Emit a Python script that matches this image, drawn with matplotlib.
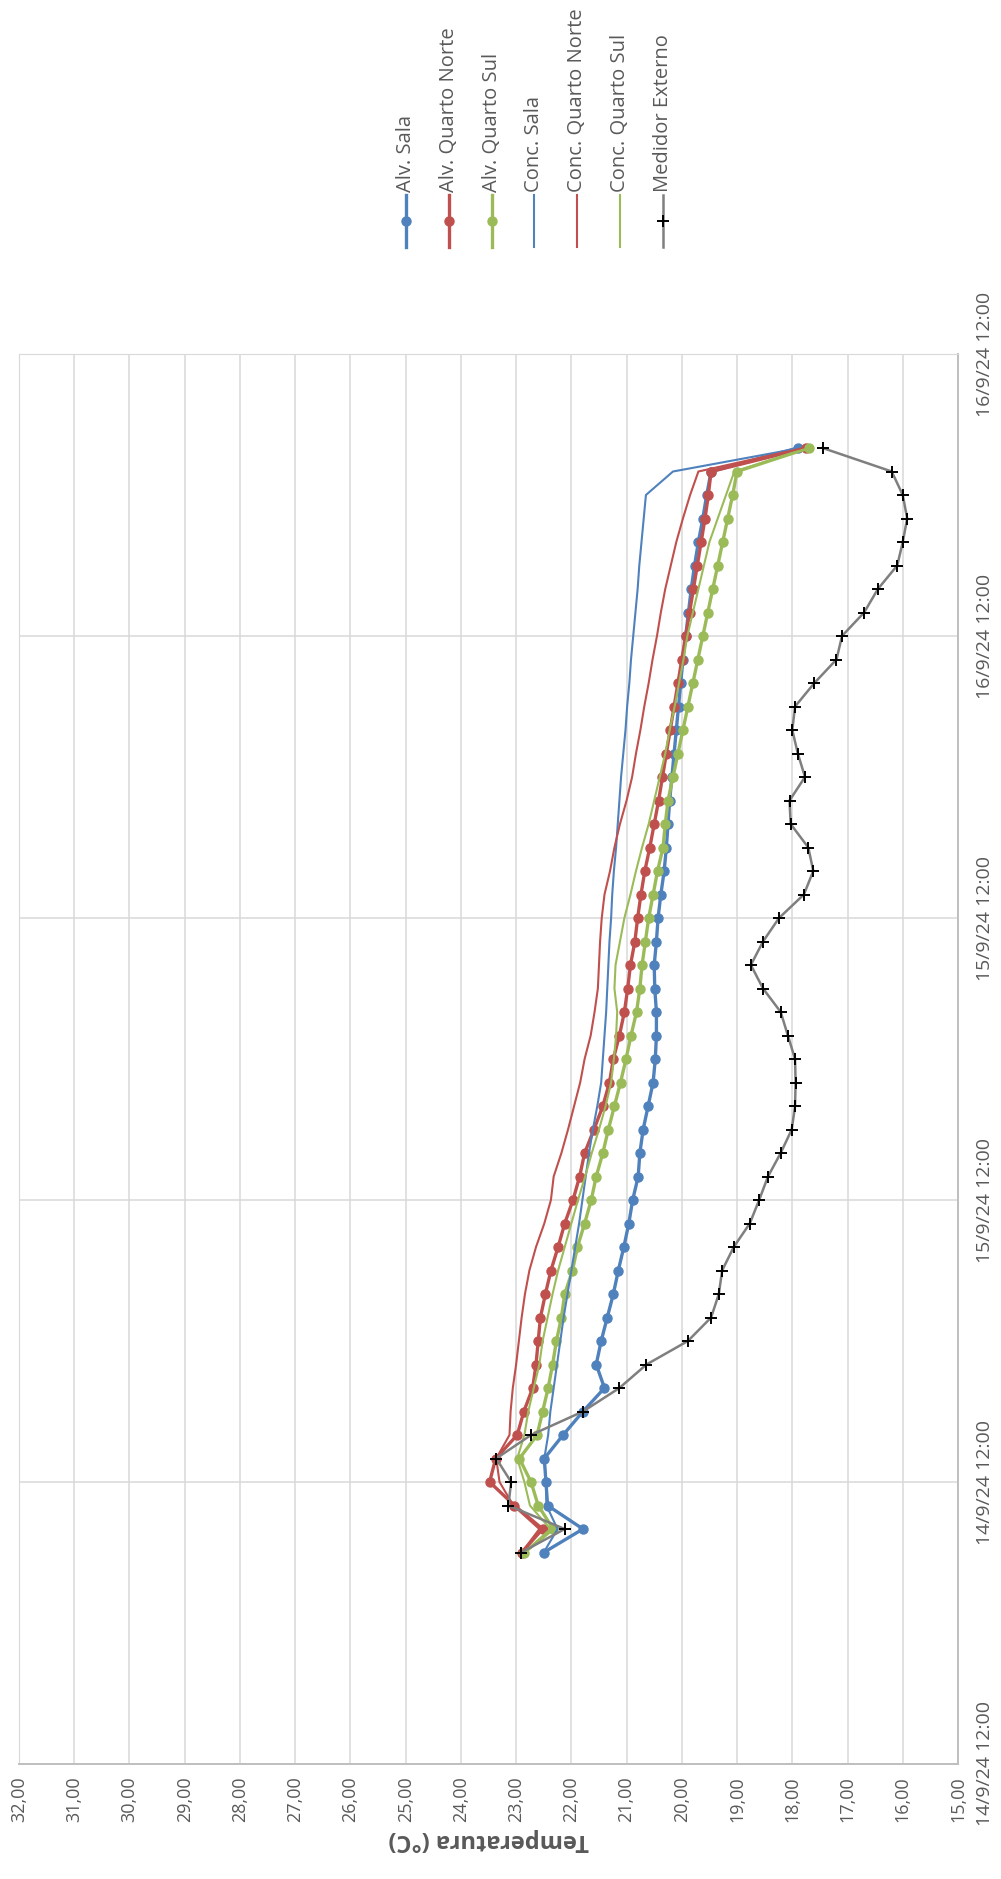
import numpy as np
import matplotlib
matplotlib.use("Agg")
import matplotlib.pyplot as plt
from matplotlib.lines import Line2D

plt.rcParams['font.family'] = ['Open Sans', 'DejaVu Sans']

# hourly readings, hours counted from 14/9/24 00:00 (first reading at 09:00)
hours = np.arange(9, 57)

alv_sala = [22.50, 21.79, 22.43, 22.46, 22.49, 22.15, 21.79, 21.40,
            21.55, 21.46, 21.35, 21.24, 21.15, 21.05, 20.96, 20.89,
            20.79, 20.76, 20.70, 20.61, 20.52, 20.48, 20.46, 20.46, 20.49,
            20.50, 20.46, 20.43, 20.38, 20.32, 20.28, 20.25, 20.22,
            20.18, 20.14, 20.10, 20.06, 20.02, 19.98, 19.93, 19.88, 19.83,
            19.77, 19.70, 19.62, 19.55, 19.47,
            17.90]
alv_qn = [22.90, 22.52, 23.03, 23.48, 23.37, 22.98, 22.86, 22.70,
          22.64, 22.60, 22.56, 22.47, 22.37, 22.24, 22.12, 21.97,
          21.85, 21.76, 21.59, 21.43, 21.31, 21.24, 21.13, 21.04, 20.98,
          20.93, 20.85, 20.80, 20.74, 20.67, 20.58, 20.50, 20.42,
          20.35, 20.28, 20.21, 20.14, 20.07, 20.00, 19.93, 19.86, 19.79,
          19.72, 19.65, 19.58, 19.52, 19.47,
          17.75]
alv_qs = [22.85, 22.33, 22.60, 22.73, 22.94, 22.62, 22.52, 22.42,
          22.34, 22.27, 22.18, 22.12, 21.98, 21.89, 21.76, 21.64,
          21.55, 21.43, 21.33, 21.22, 21.11, 21.01, 20.92, 20.82, 20.76,
          20.72, 20.66, 20.60, 20.52, 20.44, 20.34, 20.30, 20.25,
          20.16, 20.07, 19.98, 19.89, 19.80, 19.71, 19.62, 19.53, 19.44,
          19.35, 19.26, 19.17, 19.08, 19.00,
          17.70]
conc_sala = [22.50, 22.25, 22.45, 22.46, 22.49, 22.42, 22.38, 22.32,
             22.26, 22.20, 22.14, 22.07, 22.00, 21.93, 21.86, 21.80,
             21.74, 21.68, 21.61, 21.53, 21.46, 21.43, 21.40, 21.37, 21.35,
             21.33, 21.31, 21.28, 21.26, 21.23, 21.19, 21.16, 21.13,
             21.10, 21.06, 21.02, 20.99, 20.95, 20.92, 20.88, 20.84, 20.80,
             20.77, 20.73, 20.69, 20.65, 20.16,
             17.85]
conc_qn = [22.90, 22.58, 23.05, 23.30, 23.36, 23.12, 23.10, 23.06,
           23.00, 22.95, 22.90, 22.84, 22.76, 22.64, 22.49, 22.37,
           22.32, 22.18, 22.06, 21.95, 21.84, 21.76, 21.65, 21.58, 21.52,
           21.50, 21.48, 21.45, 21.40, 21.30, 21.22, 21.12, 21.00,
           20.90, 20.83, 20.75, 20.68, 20.60, 20.53, 20.45, 20.38, 20.30,
           20.20, 20.10, 19.98, 19.85, 19.70,
           17.80]
conc_qs = [22.85, 22.38, 22.75, 22.85, 22.98, 22.85, 22.78, 22.68,
           22.58, 22.52, 22.43, 22.34, 22.24, 22.12, 22.00, 21.88,
           21.75, 21.63, 21.50, 21.38, 21.28, 21.23, 21.19, 21.17, 21.22,
           21.20, 21.12, 21.04, 20.93, 20.83, 20.72, 20.60, 20.50,
           20.40, 20.30, 20.22, 20.13, 20.05, 19.97, 19.90, 19.80, 19.70,
           19.60, 19.50, 19.35, 19.20, 19.05,
           17.70]
medidor = [22.91, 22.12, 23.14, 23.09, 23.36, 22.73, 21.79, 21.13,
           20.64, 19.89, 19.47, 19.33, 19.27, 19.06, 18.77, 18.60,
           18.44, 18.21, 18.01, 17.95, 17.94, 17.95, 18.08, 18.21, 18.53,
           18.75, 18.53, 18.24, 17.79, 17.62, 17.71, 18.03, 18.05,
           17.77, 17.90, 18.00, 17.95, 17.60, 17.20, 17.10, 16.70, 16.45,
           16.10, 16.00, 15.92, 16.00, 16.20,
           17.45]

date_ticks = [0, 12, 24, 36, 48, 60]
date_labels = ['14/9/24 12:00', '14/9/24 12:00', '15/9/24 12:00',
               '15/9/24 12:00', '16/9/24 12:00', '16/9/24 12:00']
temp_ticks = np.arange(15, 33)

BLUE = '#4F81BD'
RED = '#C0504D'
GREEN = '#9BBB59'
GRAY_TXT = '#595959'

series = [
    ('Alv. Sala', alv_sala, dict(color=BLUE, lw=2.4, marker='o', ms=6.5)),
    ('Alv. Quarto Norte', alv_qn, dict(color=RED, lw=2.4, marker='o', ms=6.5)),
    ('Alv. Quarto Sul', alv_qs, dict(color=GREEN, lw=2.4, marker='o', ms=6.5)),
    ('Conc. Sala', conc_sala, dict(color=BLUE, lw=1.5)),
    ('Conc. Quarto Norte', conc_qn, dict(color=RED, lw=1.5)),
    ('Conc. Quarto Sul', conc_qs, dict(color=GREEN, lw=1.5)),
    ('Medidor Externo', medidor, dict(color='#7F7F7F', lw=1.8, marker='+', ms=9,
                                      mec='black', mew=1.4)),
]

W, H = 1001, 1879
fig = plt.figure(figsize=(W / 100, H / 100), dpi=100)
ax = fig.add_axes([19 / W, 1 - 1764 / H, (958 - 19) / W, (1764 - 354) / H])

for name, vals, style in series:
    ax.plot(vals, hours, label=name, **style)

ax.set_xlim(32, 15)
ax.set_ylim(0, 60)

ax.set_xticks(temp_ticks)
ax.set_xticklabels([f'{t},00' for t in temp_ticks], rotation=90)
ax.tick_params(axis='x', length=0, pad=9, labelsize=13, labelcolor=GRAY_TXT)

ax.yaxis.tick_right()
ax.set_yticks(date_ticks)
ax.set_yticklabels(date_labels, rotation=90, va='center')
ax.tick_params(axis='y', length=0, pad=13, labelsize=14, labelcolor=GRAY_TXT)

ax.grid(True, color='#D9D9D9', lw=1.1)
ax.set_axisbelow(True)
for side in ['top', 'left']:
    ax.spines[side].set_color('#D9D9D9')
for side in ['bottom', 'right']:
    ax.spines[side].set_color('#BFBFBF')
    ax.spines[side].set_linewidth(1.4)

ax.set_xlabel('Temperatura (°C)', rotation=180, fontsize=17, fontweight='bold',
              color=GRAY_TXT, labelpad=4)

# legend drawn by hand so the entries read vertically
leg_x = [406, 449, 492, 534, 577, 620, 663]
for (name, vals, style), lx in zip(series, leg_x):
    fx = lx / W
    fig.add_artist(Line2D([fx, fx], [1 - 195 / H, 1 - 247 / H],
                          color=style['color'], lw=style['lw'],
                          transform=fig.transFigure))
    if 'marker' in style:
        fig.add_artist(Line2D([fx], [1 - 221 / H], marker=style['marker'],
                              ms=style['ms'], color=style['color'],
                              mec=style.get('mec', style['color']),
                              mew=style.get('mew', 1), lw=0,
                              transform=fig.transFigure))
    fig.text(fx, 1 - 192 / H, name, rotation=90, ha='center', va='bottom',
             fontsize=14.5, color=GRAY_TXT)

fig.savefig('out.png', dpi=100)
